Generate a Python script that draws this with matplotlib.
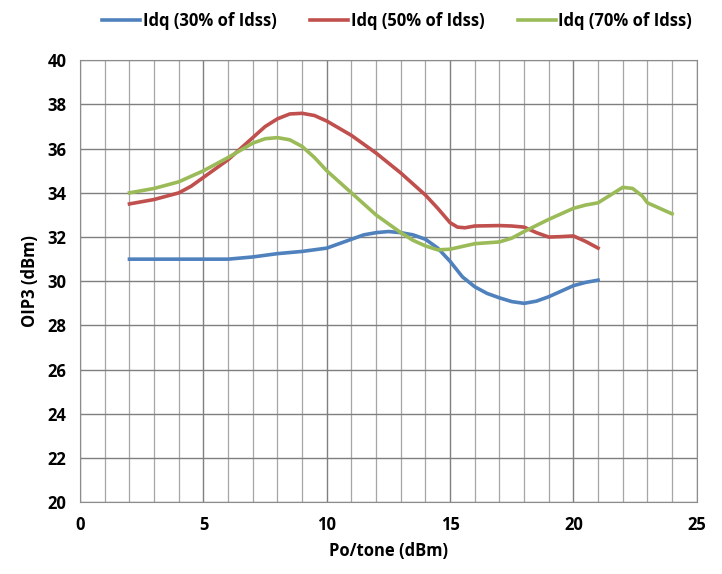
import matplotlib
matplotlib.use("Agg")
import matplotlib.pyplot as plt
from matplotlib.ticker import MultipleLocator

# values
x30 = [2, 3, 4, 5, 6, 7, 8, 9, 10, 10.5, 11, 11.5, 12, 12.5, 13, 13.5, 14, 14.5, 15, 15.5, 16, 16.5, 17, 17.5, 18, 18.5, 19, 19.5, 20, 20.5, 21]
y30 = [31.0, 31.0, 31.0, 31.0, 31.0, 31.1, 31.25, 31.35, 31.5, 31.7, 31.9, 32.1, 32.2, 32.25, 32.2, 32.1, 31.9, 31.5, 30.9, 30.2, 29.75, 29.45, 29.25, 29.08, 29.0, 29.1, 29.3, 29.55, 29.8, 29.95, 30.05]

x50 = [2, 3, 4, 4.5, 5, 6, 7, 7.5, 8, 8.5, 9, 9.5, 10, 11, 12, 13, 14, 14.5, 15, 15.3, 15.6, 16, 17, 17.5, 18, 18.5, 19, 19.5, 20, 20.5, 21]
y50 = [33.5, 33.7, 34.0, 34.3, 34.7, 35.5, 36.5, 37.0, 37.35, 37.57, 37.6, 37.5, 37.25, 36.6, 35.8, 34.9, 33.9, 33.3, 32.65, 32.45, 32.42, 32.5, 32.52, 32.5, 32.45, 32.2, 32.0, 32.02, 32.05, 31.8, 31.5]

x70 = [2, 3, 4, 5, 6, 7, 7.5, 8, 8.5, 9, 9.5, 10, 11, 12, 13, 13.5, 14, 14.5, 15, 16, 17, 17.5, 18, 19, 20, 20.5, 21, 21.5, 22, 22.4, 22.8, 23, 23.5, 24]
y70 = [34.0, 34.2, 34.5, 35.0, 35.6, 36.25, 36.45, 36.5, 36.4, 36.1, 35.6, 35.0, 34.0, 33.0, 32.2, 31.85, 31.6, 31.42, 31.45, 31.7, 31.78, 31.95, 32.25, 32.8, 33.3, 33.45, 33.55, 33.9, 34.25, 34.2, 33.85, 33.55, 33.3, 33.05]

labels = ["Idq (30% of Idss)", "Idq (50% of Idss)", "Idq (70% of Idss)"]
colors = ["#4F81BD", "#C0504D", "#9BBB59"]

plt.rcParams['font.family'] = ['Open Sans', 'DejaVu Sans']
plt.rcParams['font.weight'] = 'bold'

fig = plt.figure(figsize=(7.22, 5.74), dpi=100)
ax = fig.add_axes([0.111, 0.125, 0.854, 0.77])

for xs, ys, lab, c in zip([x30, x50, x70], [y30, y50, y70], labels, colors):
    ax.plot(xs, ys, color=c, lw=2.6, label=lab, solid_joinstyle='round')

ax.set_xlim(0, 25)
ax.set_ylim(20, 40)
ax.xaxis.set_major_locator(MultipleLocator(5))
ax.xaxis.set_minor_locator(MultipleLocator(1))
ax.yaxis.set_major_locator(MultipleLocator(2))
ax.grid(which='major', color='#7f7f7f', lw=1.0)
ax.grid(which='minor', axis='x', color='#a6a6a6', lw=0.9)
ax.set_axisbelow(True)
ax.tick_params(which='both', length=0, labelsize=12, pad=10)
for lab in ax.get_xticklabels() + ax.get_yticklabels():
    lab.set_fontweight('bold')
for s in ax.spines.values():
    s.set_color('#8c8c8c')

ax.set_xlabel("Po/tone (dBm)", fontsize=12, fontweight='bold', labelpad=6)
ax.set_ylabel("OIP3 (dBm)", fontsize=12, fontweight='bold', labelpad=6)

fig.legend(loc='upper center', bbox_to_anchor=(0.55, 1.005), ncol=3, frameon=False,
           handlelength=2.3, columnspacing=2.0, handletextpad=0.15,
           prop={'weight': 'bold', 'size': 12})

fig.savefig("out.png", dpi=100)
